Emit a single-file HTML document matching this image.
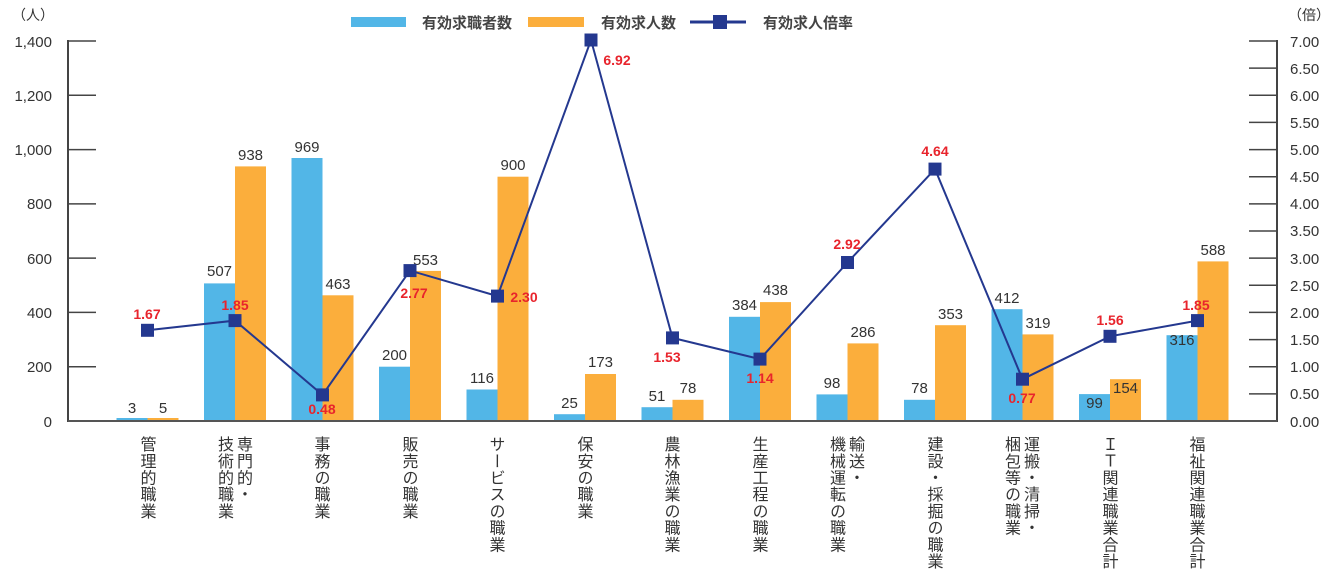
<!DOCTYPE html>
<html><head><meta charset="utf-8"><style>
body{margin:0;background:#fff;width:1335px;height:582px;overflow:hidden;position:relative;font-family:"Liberation Sans","Noto Sans CJK JP",sans-serif}
.v{position:absolute;top:436px;writing-mode:vertical-rl;font-size:16px;line-height:19px;letter-spacing:0.7px;color:#333;font-family:"Noto Sans CJK JP",sans-serif;transform:translateX(-50%)}
svg{position:absolute;left:0;top:0}
</style></head><body>
<svg width="1335" height="582" font-family="Liberation Sans, Noto Sans CJK JP, sans-serif">
<g stroke="#444" stroke-width="2">
<line x1="68" y1="40" x2="68" y2="422"/>
<line x1="1277" y1="40" x2="1277" y2="422"/>
</g>
<g stroke="#444" stroke-width="1.5" id="t">
<line x1="68" x2="96" y1="41" y2="41"/><line x1="68" x2="96" y1="95.3" y2="95.3"/><line x1="68" x2="96" y1="149.6" y2="149.6"/><line x1="68" x2="96" y1="203.9" y2="203.9"/><line x1="68" x2="96" y1="258.1" y2="258.1"/><line x1="68" x2="96" y1="312.4" y2="312.4"/><line x1="68" x2="96" y1="366.7" y2="366.7"/>
</g>
<g stroke="#444" stroke-width="1.5">
<line x1="1249" x2="1277" y1="41" y2="41"/><line x1="1249" x2="1277" y1="68.1" y2="68.1"/><line x1="1249" x2="1277" y1="95.3" y2="95.3"/><line x1="1249" x2="1277" y1="122.4" y2="122.4"/><line x1="1249" x2="1277" y1="149.6" y2="149.6"/><line x1="1249" x2="1277" y1="176.7" y2="176.7"/><line x1="1249" x2="1277" y1="203.9" y2="203.9"/><line x1="1249" x2="1277" y1="231" y2="231"/><line x1="1249" x2="1277" y1="258.1" y2="258.1"/><line x1="1249" x2="1277" y1="285.3" y2="285.3"/><line x1="1249" x2="1277" y1="312.4" y2="312.4"/><line x1="1249" x2="1277" y1="339.6" y2="339.6"/><line x1="1249" x2="1277" y1="366.7" y2="366.7"/><line x1="1249" x2="1277" y1="393.9" y2="393.9"/>
</g>
<g font-size="15" fill="#333" text-anchor="end">
<text x="52" y="47">1,400</text><text x="52" y="101">1,200</text><text x="52" y="155">1,000</text><text x="52" y="209">800</text><text x="52" y="264">600</text><text x="52" y="318">400</text><text x="52" y="372">200</text><text x="52" y="427">0</text>
<text x="54" y="20" font-size="14">（人）</text>
</g>
<g font-size="15" fill="#333" text-anchor="start">
<text x="1288" y="20" font-size="14">（倍）</text>
<text x="1290" y="47">7.00</text><text x="1290" y="74">6.50</text><text x="1290" y="101">6.00</text><text x="1290" y="128">5.50</text><text x="1290" y="155">5.00</text><text x="1290" y="182">4.50</text><text x="1290" y="209">4.00</text><text x="1290" y="236">3.50</text><text x="1290" y="264">3.00</text><text x="1290" y="291">2.50</text><text x="1290" y="318">2.00</text><text x="1290" y="345">1.50</text><text x="1290" y="372">1.00</text><text x="1290" y="399">0.50</text><text x="1290" y="427">0.00</text>
</g>
<g fill="#52b6e7">
<rect x="116.5" y="418" width="31" height="3"/><rect x="204" y="283.4" width="31" height="137.6"/><rect x="291.5" y="158" width="31" height="263"/><rect x="379" y="366.7" width="31" height="54.3"/><rect x="466.5" y="389.5" width="31" height="31.5"/><rect x="554" y="414.2" width="31" height="6.8"/><rect x="641.5" y="407.2" width="31" height="13.8"/><rect x="729" y="316.8" width="31" height="104.2"/><rect x="816.5" y="394.4" width="31" height="26.6"/><rect x="904" y="399.8" width="31" height="21.2"/><rect x="991.5" y="309.2" width="31" height="111.8"/><rect x="1079" y="394.1" width="31" height="26.9"/><rect x="1166.5" y="335.2" width="31" height="85.8"/>
</g>
<g fill="#fbae3c">
<rect x="147.5" y="418" width="31" height="3"/><rect x="235" y="166.4" width="31" height="254.6"/><rect x="322.5" y="295.3" width="31" height="125.7"/><rect x="410" y="270.9" width="31" height="150.1"/><rect x="497.5" y="176.7" width="31" height="244.3"/><rect x="585" y="374" width="31" height="47"/><rect x="672.5" y="399.8" width="31" height="21.2"/><rect x="760" y="302.1" width="31" height="118.9"/><rect x="847.5" y="343.4" width="31" height="77.6"/><rect x="935" y="325.2" width="31" height="95.8"/><rect x="1022.5" y="334.4" width="31" height="86.6"/><rect x="1110" y="379.2" width="31" height="41.8"/><rect x="1197.5" y="261.4" width="31" height="159.6"/>
</g>
<line x1="68" x2="1277" y1="421" y2="421" stroke="#555" stroke-width="2"/>
<g font-size="15" fill="#333" text-anchor="middle">
<text x="132" y="413">3</text><text x="163" y="413">5</text>
<text x="219.5" y="276">507</text><text x="250.5" y="160">938</text>
<text x="307" y="152">969</text><text x="338" y="289">463</text>
<text x="394.5" y="360">200</text><text x="425.5" y="265">553</text>
<text x="482" y="383">116</text><text x="513" y="170">900</text>
<text x="569.5" y="408">25</text><text x="600.5" y="367">173</text>
<text x="657" y="401">51</text><text x="688" y="393">78</text>
<text x="744.5" y="310">384</text><text x="775.5" y="295">438</text>
<text x="832" y="388">98</text><text x="863" y="337">286</text>
<text x="919.5" y="393">78</text><text x="950.5" y="319">353</text>
<text x="1007" y="303">412</text><text x="1038" y="328">319</text>
<text x="1094.5" y="408">99</text><text x="1125.5" y="393">154</text>
<text x="1182" y="345">316</text><text x="1213" y="255">588</text>
</g>
<polyline fill="none" stroke="#24388f" stroke-width="2" points="147.5,330.3 235,320.6 322.5,394.9 410,270.6 497.5,296.1 591,40 672.5,337.9 760,359.1 847.5,262.5 935,169.1 1022.5,379.2 1110,336.3 1197.5,320.6"/>
<g fill="#24388f">
<rect x="141" y="323.8" width="13" height="13"/><rect x="228.5" y="314.1" width="13" height="13"/><rect x="316" y="388.4" width="13" height="13"/><rect x="403.5" y="264.1" width="13" height="13"/><rect x="491" y="289.6" width="13" height="13"/><rect x="584.5" y="33.5" width="13" height="13"/><rect x="666" y="331.4" width="13" height="13"/><rect x="753.5" y="352.6" width="13" height="13"/><rect x="841" y="256" width="13" height="13"/><rect x="928.5" y="162.6" width="13" height="13"/><rect x="1016" y="372.7" width="13" height="13"/><rect x="1103.5" y="329.8" width="13" height="13"/><rect x="1191" y="314.1" width="13" height="13"/>
</g>
<g font-size="14" font-weight="bold" fill="#e8242c" text-anchor="middle">
<text x="147" y="319">1.67</text><text x="235" y="310">1.85</text><text x="322" y="414">0.48</text><text x="414" y="298">2.77</text><text x="524" y="302">2.30</text><text x="617" y="65">6.92</text><text x="667" y="362">1.53</text><text x="760" y="383">1.14</text><text x="847" y="249">2.92</text><text x="935" y="156">4.64</text><text x="1022" y="403">0.77</text><text x="1110" y="325">1.56</text><text x="1196" y="310">1.85</text>
</g>
<rect x="351" y="17" width="55" height="10" fill="#52b6e7"/>
<rect x="528" y="17" width="56" height="10" fill="#fbae3c"/>
<line x1="690" x2="746" y1="22" y2="22" stroke="#24388f" stroke-width="3"/>
<rect x="713" y="15" width="14" height="14" fill="#24388f"/>
<g font-size="15" font-weight="bold" fill="#444">
<text x="422" y="28">有効求職者数</text><text x="601" y="28">有効求人数</text><text x="763" y="28">有効求人倍率</text>
</g>
</svg>
<div class="v" style="left:148px">管理的職業</div>
<div class="v" style="left:235px">専門的・<br>技術的職業</div>
<div class="v" style="left:322px">事務の職業</div>
<div class="v" style="left:410px">販売の職業</div>
<div class="v" style="left:497px">サービスの職業</div>
<div class="v" style="left:585px">保安の職業</div>
<div class="v" style="left:672px">農林漁業の職業</div>
<div class="v" style="left:760px">生産工程の職業</div>
<div class="v" style="left:847px">輸送・<br>機械運転の職業</div>
<div class="v" style="left:935px">建設・採掘の職業</div>
<div class="v" style="left:1022px">運搬・清掃・<br>梱包等の職業</div>
<div class="v" style="left:1110px">ＩＴ関連職業合計</div>
<div class="v" style="left:1197px">福祉関連職業合計</div>
</body></html>
